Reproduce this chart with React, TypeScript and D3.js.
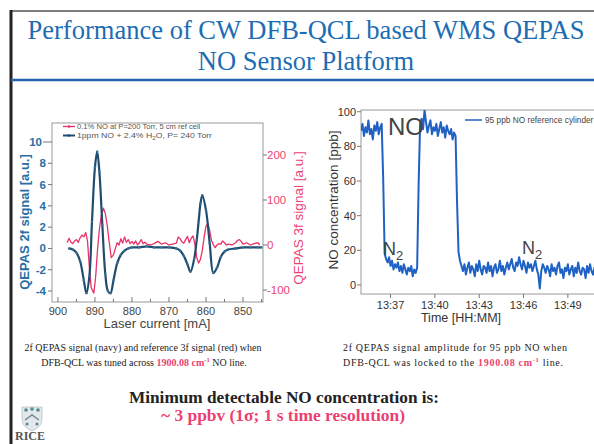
import React from "react";
import * as d3 from "d3";

// ---------- text ----------
const titleLine1 = "Performance of CW DFB-QCL based WMS QEPAS";
const titleLine2 = "NO Sensor Platform";

// ---------- left chart: laser current scan ----------
const currentMA2f = [897, 896, 895, 894, 893, 892.3, 891.5, 890.8, 890, 889.4, 888.8, 888, 887.2, 886.5, 885.8, 885, 884, 883, 882, 881, 880, 878, 876, 874, 872, 870, 868, 867, 866, 865, 864.2, 863.2, 862.5, 862, 861.5, 861, 860, 859, 858, 857, 856, 855, 854, 852, 850, 848, 846, 845];
const signal2f = [0, -0.1, -0.4, -1.2, -3.0, -4.2, -2.6, 2.5, 7.6, 9.1, 7.2, 2.2, -2.4, -4.0, -4.2, -3.0, -1.4, -0.6, -0.2, 0, 0.1, 0.1, 0.2, 0.1, 0.1, 0.1, 0, -0.2, -0.7, -1.5, -2.2, -1.0, 0.8, 2.5, 4.2, 5.0, 3.6, 0.5, -2.3, -1.8, -0.8, -0.3, -0.1, 0, 0.1, 0.1, 0.1, 0.1];
const currentMA3f = [897.5, 897, 896.5, 896, 895.5, 895, 894.5, 894, 893.5, 893, 892.5, 892, 891.5, 891, 890.3, 889.8, 889.3, 888.8, 888.3, 887.7, 887.2, 886.7, 886.2, 885.6, 885, 884.5, 884, 883.5, 883, 882.5, 882, 881.5, 881, 880.5, 880, 879.5, 879, 878.5, 878, 877.5, 877, 876.5, 876, 875, 874, 873, 872, 871, 870, 869, 868, 867.5, 867, 866.5, 866, 865.5, 865, 864.5, 864, 863.5, 863, 862.5, 862, 861.5, 861, 860.5, 860, 859.5, 859, 858.5, 858, 857.5, 857, 856.5, 856, 855.5, 855, 854.5, 854, 853, 852, 851.5, 851, 850.5, 850, 849, 848, 847, 846, 845.5];
const signal3f = [5, 15, 6, 3, 9, 12, 6, 16, 22, 18, 28, 8, -50, -95, -107, -70, -10, 35, 65, 82, 70, 45, 10, -28, -22, -8, 5, 0, 14, 4, 18, 6, 12, 3, 8, 2, 9, 0, 5, 12, 3, 6, 2, 0, 3, 8, 2, 5, 0, 2, 4, 18, 14, 7, 4, 12, 19, 5, 15, 20, 2, -28, -40, -32, -12, 18, 42, 48, 32, 10, 0, -6, 0, 3, 2, 9, 5, 0, 2, 0, 5, 10, 12, 8, 2, 5, 0, 3, 5, 0];
const currentTicks = [900, 890, 880, 870, 860, 850];
const signal2fTicks = [-4, -2, 0, 2, 4, 6, 8, 10];
const signal3fTicks = [-100, 0, 100, 200];
const legendRed = "0.1% NO at P=200 Torr, 5 cm ref cell";
const legendBlueA = "1ppm NO + 2.4% H";
const legendBlueB = "2";
const legendBlueC = "O, P= 240 Torr";

// ---------- right chart: locked-line time series ----------
const startTime = "13:35:00";
const sampleSeconds = 6;
const noPpb = [
  89, 93, 86, 91, 88, 95, 87, 90, 84, 92, 89, 94, 87, 91, 93,
  62,
  18, 15, 13, 16, 11, 14, 9, 12, 10, 13, 8, 11, 7, 12, 9, 6, 10, 8, 11, 5, 9, 7, 10,
  58,
  93, 96, 90, 101, 94, 88, 92, 95, 87, 91, 89, 93, 86, 90, 94, 88, 91, 85, 92, 89, 87, 90, 84, 88, 86,
  48, 19,
  14, 11, 8, 12, 6, 10, 13, 7, 11, 9,
  5, 12, 8, 14, 9, 6, 11, 10, 7, 13,
  8, 11, 5, 10, 12, 7, 9, 14, 8, 11,
  6, 10, 13, 9, 12, 15, 10, 8, 13, 11,
  16, 12, 9, 14, 11, 7, 13, 10, 12, 8,
  11, 14, 9, 6, -2, 8, 12, 10, 7, 11,
  9, 5, 12, 8, 10, 6, 11, 13, 7, 9,
  4, 10, 8, 12, 6, 9, 11, 5, 10, 7,
  13, 8, 6, 10, 9, 4, 11, 7, 12, 8,
  6, 10, 5, 9, 8,
];
const timeTickLabels = ["13:37", "13:40", "13:43", "13:46", "13:49"];
const ppbTicks = [0, 20, 40, 60, 80, 100];
const legendRight = "95 ppb NO reference cylinder";

const SANS = "'Liberation Sans', Arial, sans-serif";
const SERIF = "'Liberation Serif', 'Times New Roman', serif";
const NAVY = "#1f4d70";
const BLUE_TXT = "#2a6ea3";
const RED = "#e8336a";
const PINK = "#ec3f72";
const TS_BLUE = "#1f62c4";

export default function App() {
  // left scales
  const xL = d3.scaleLinear().domain([901.6, 844.6]).range([52, 263]);
  const yL = d3.scaleLinear().domain([-5.03, 11.785]).range([302, 123]);
  const yR = d3.scaleLinear().domain([-126.7, 271.1]).range([302, 123]);

  const path2f = d3
    .line<number>()
    .x((_, i) => xL(currentMA2f[i]))
    .y((d) => yL(d))
    .curve(d3.curveCatmullRom)(signal2f) || "";
  const path3f = d3
    .line<number>()
    .x((_, i) => xL(currentMA3f[i]))
    .y((d) => yR(d))
    .curve(d3.curveLinear)(signal3f) || "";

  // right scales
  const t0 = d3.timeParse("%H:%M:%S")(startTime) as Date;
  const xT = d3
    .scaleTime()
    .domain([t0, d3.timeSecond.offset(t0, 990)])
    .range([361, 604.8]);
  const yT = d3.scaleLinear().domain([-5.2, 101]).range([294, 110]);
  const parseHM = d3.timeParse("%H:%M");
  const pathNO = d3
    .line<number>()
    .x((_, i) => xT(d3.timeSecond.offset(t0, i * sampleSeconds)))
    .y((d) => yT(d))(noPpb) || "";

  const minorCurrent = d3.range(900, 844, -5);

  return (
    <svg
      width={594}
      height={444}
      viewBox="0 0 594 444"
      style={{ position: "absolute", left: 0, top: 0, background: "#fff" }}
    >
      <defs>
        <clipPath id="clipL">
          <rect x={52} y={123} width={211} height={179} />
        </clipPath>
        <clipPath id="clipR">
          <rect x={361} y={110} width={244} height={184} />
        </clipPath>
      </defs>
      <rect x={0} y={0} width={594} height={444} fill="#fff" />

      {/* slide frame */}
      <line x1={10} y1={11} x2={594} y2={11} stroke="#555" strokeWidth={1.5} />
      <line x1={11} y1={10} x2={11} y2={444} stroke="#222" strokeWidth={3} />
      <line x1={11} y1={80} x2={594} y2={80} stroke="#2264ad" strokeWidth={2.5} />

      {/* title */}
      <text x={306} y={39} textAnchor="middle" fontFamily={SERIF} fontSize={26.5} fill="#1c6db4" textLength={557} lengthAdjust="spacingAndGlyphs">
        {titleLine1}
      </text>
      <text x={306} y={70} textAnchor="middle" fontFamily={SERIF} fontSize={26.5} fill="#1c6db4">
        {titleLine2}
      </text>

      {/* ===== left chart ===== */}
      <rect x={52} y={123} width={211} height={179} fill="none" stroke="#999" strokeWidth={1} />
      {signal2fTicks.map((v) => (
        <g key={"l" + v}>
          <line x1={v === 10 ? 43 : 48} x2={52} y1={yL(v)} y2={yL(v)} stroke="#777" />
          <text x={v === 10 ? 42 : 46} y={yL(v) + 4} textAnchor="end" fontFamily={SANS} fontSize={11.5} fontWeight="bold" fill={BLUE_TXT}>
            {v}
          </text>
        </g>
      ))}
      {signal3fTicks.map((v) => (
        <g key={"r" + v}>
          <line x1={263} x2={267} y1={yR(v)} y2={yR(v)} stroke="#777" />
          <text x={267} y={yR(v) + 4} textAnchor="start" fontFamily={SANS} fontSize={11.5} fill={PINK}>
            {v}
          </text>
        </g>
      ))}
      {minorCurrent.map((v) => (
        <line key={"m" + v} x1={xL(v)} x2={xL(v)} y1={302} y2={v % 10 === 0 ? 297 : 299} stroke="#777" />
      ))}
      {currentTicks.map((v) => (
        <text key={"x" + v} x={xL(v)} y={315} textAnchor="middle" fontFamily={SANS} fontSize={11} fill="#444">
          {v}
        </text>
      ))}
      <text x={157} y={328} textAnchor="middle" fontFamily={SANS} fontSize={13} fill="#444">
        Laser current [mA]
      </text>
      <text transform="translate(29,222) rotate(-90)" textAnchor="middle" fontFamily={SANS} fontSize={13} fontWeight="bold" fill={BLUE_TXT}>
        QEPAS 2f signal [a.u.]
      </text>
      <text transform="translate(303,218) rotate(-90)" textAnchor="middle" fontFamily={SANS} fontSize={13.5} fill={PINK}>
        QEPAS 3f signal [a.u.]
      </text>

      <g clipPath="url(#clipL)">
        <path d={path3f} fill="none" stroke={RED} strokeWidth={1.3} strokeLinejoin="round" />
        <path d={path2f} fill="none" stroke={NAVY} strokeWidth={2.2} strokeLinejoin="round" />
        {signal2f.map((d, i) => (
          <circle key={i} cx={xL(currentMA2f[i])} cy={yL(d)} r={1.2} fill="#3d6f95" />
        ))}
      </g>

      {/* left legend */}
      <line x1={63} x2={75} y1={126.5} y2={126.5} stroke={RED} strokeWidth={1.3} />
      <circle cx={69} cy={126.5} r={1.3} fill={RED} />
      <text x={77} y={129} fontFamily={SANS} fontSize={7.6} fill="#555">
        {legendRed}
      </text>
      <line x1={63} x2={75} y1={135.5} y2={135.5} stroke={NAVY} strokeWidth={2} />
      <circle cx={69} cy={135.5} r={1.3} fill={NAVY} />
      <text x={77} y={138} fontFamily={SANS} fontSize={7.6} fill="#555" textLength={135} lengthAdjust="spacingAndGlyphs">
        {legendBlueA}
        <tspan fontSize={5.5} dy={1.5}>{legendBlueB}</tspan>
        <tspan dy={-1.5}>{legendBlueC}</tspan>
      </text>

      {/* ===== right chart ===== */}
      <rect x={361} y={110} width={244} height={184} fill="none" stroke="#999" strokeWidth={1} />
      {ppbTicks.map((v) => (
        <g key={"p" + v}>
          <line x1={357} x2={361} y1={yT(v)} y2={yT(v)} stroke="#777" />
          <text x={356} y={yT(v) + 4} textAnchor="end" fontFamily={SANS} fontSize={11} fill="#333">
            {v}
          </text>
        </g>
      ))}
      {timeTickLabels.map((s) => {
        const t = parseHM(s) as Date;
        return (
          <g key={s}>
            <line x1={xT(t)} x2={xT(t)} y1={294} y2={298} stroke="#777" />
            <text x={xT(t)} y={309} textAnchor="middle" fontFamily={SANS} fontSize={11} fill="#333">
              {s}
            </text>
          </g>
        );
      })}
      <text x={461} y={322} textAnchor="middle" fontFamily={SANS} fontSize={12.5} fill="#333">
        Time [HH:MM]
      </text>
      <text transform="translate(338,200) rotate(-90)" textAnchor="middle" fontFamily={SANS} fontSize={13.5} fill="#333">
        NO concentration [ppb]
      </text>
      <g clipPath="url(#clipR)">
        <path d={pathNO} fill="none" stroke={TS_BLUE} strokeWidth={2} strokeLinejoin="round" />
      </g>
      <line x1={465} x2={482} y1={120} y2={120} stroke={TS_BLUE} strokeWidth={1.5} />
      <text x={485} y={123} fontFamily={SANS} fontSize={8.3} fill="#444">
        {legendRight}
      </text>
      <text x={388} y={135} fontFamily={SANS} fontSize={24} fill="#444">
        NO
      </text>
      <text x={383} y={255} fontFamily={SANS} fontSize={18} fill="#444">
        N<tspan fontSize={13} dy={5}>2</tspan>
      </text>
      <text x={522} y={254} fontFamily={SANS} fontSize={18} fill="#444">
        N<tspan fontSize={13} dy={5}>2</tspan>
      </text>

      {/* captions */}
      <text x={143} y={351} textAnchor="middle" fontFamily={SERIF} fontSize={10} fill="#222" textLength={237} lengthAdjust="spacing">
        2f QEPAS signal (navy) and reference 3f signal (red) when
      </text>
      <text x={144} y={366} textAnchor="middle" fontFamily={SERIF} fontSize={10} fill="#222">
        DFB-QCL was tuned across{" "}
        <tspan fill={PINK} fontWeight="bold">1900.08 cm</tspan>
        <tspan fill={PINK} fontWeight="bold" fontSize={6.5} dy={-4}>-1</tspan>
        <tspan dy={4}> NO line.</tspan>
      </text>
      <text x={455} y={351} textAnchor="middle" fontFamily={SERIF} fontSize={10} fill="#222" textLength={224} lengthAdjust="spacing">
        2f QEPAS signal amplitude for 95 ppb NO when
      </text>
      <text x={453} y={366} textAnchor="middle" fontFamily={SERIF} fontSize={10} fill="#222" textLength={220} lengthAdjust="spacing">
        DFB-QCL  was locked to  the{" "}
        <tspan fill={PINK} fontWeight="bold">1900.08 cm</tspan>
        <tspan fill={PINK} fontWeight="bold" fontSize={6.5} dy={-4}>-1</tspan>
        <tspan dy={4}> line.</tspan>
      </text>

      <text x={284} y={403} textAnchor="middle" fontFamily={SERIF} fontSize={17} fontWeight="bold" fill="#222" textLength={310} lengthAdjust="spacingAndGlyphs">
        Minimum detectable NO concentration is:
      </text>
      <text x={283} y={421} textAnchor="middle" fontFamily={SERIF} fontSize={17} fontWeight="bold" fill={PINK} textLength={244} lengthAdjust="spacingAndGlyphs">
        ~ 3 ppbv (1σ; 1 s time resolution)
      </text>

      {/* RICE logo */}
      <g>
        <path d="M22,407 L42,407 L42,419 Q42,427 32,431 Q22,427 22,419 Z" fill="#e4e8ea" stroke="#b8c2c6" strokeWidth={0.8} />
        <circle cx={26} cy={410} r={1.8} fill="#4d8c95" />
        <circle cx={32} cy={409} r={1.8} fill="#4d8c95" />
        <circle cx={38} cy={410} r={1.8} fill="#4d8c95" />
        <path d="M25,420 L32,415 L39,420" fill="none" stroke="#6b8c95" strokeWidth={1.5} />
        <circle cx={27} cy={424} r={1.5} fill="#4d8c95" />
        <circle cx={37} cy={424} r={1.5} fill="#4d8c95" />
        <text x={15} y={440} fontFamily={SERIF} fontSize={12} fontWeight="bold" fill="#555">
          RICE
        </text>
      </g>
    </svg>
  );
}
